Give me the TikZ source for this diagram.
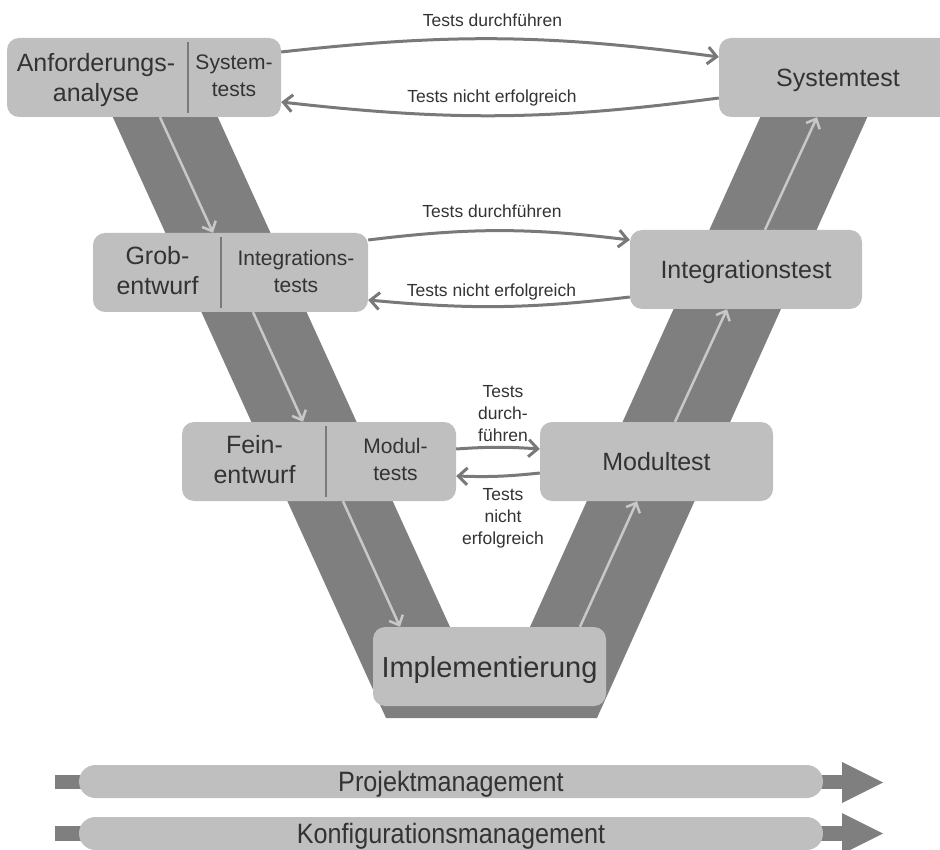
\documentclass[tikz,border=0pt]{standalone}
\usepackage{fontspec}
\setmainfont{Liberation Sans}
\newfontfamily\narrowfont[FakeStretch=0.9]{Liberation Sans}
\usetikzlibrary{arrows.meta}
\definecolor{vband}{HTML}{7F7F7F}
\definecolor{boxfill}{HTML}{BFBFBF}
\definecolor{conncol}{HTML}{797979}
\definecolor{upcol}{HTML}{C8C8C8}
\definecolor{txt}{HTML}{333333}
\definecolor{divcol}{HTML}{7A7A7A}
\tikzset{
  box/.style={fill=boxfill, draw=none, rounded corners=12pt, inner sep=0pt, minimum height=79pt, minimum width=#1},
  bigtxt/.style={font=\fontsize{25}{30}\selectfont, text=txt, align=center, inner sep=0pt},
  smalltxt/.style={font=\fontsize{21}{27}\selectfont, text=txt, align=center, inner sep=0pt},
  single/.style={font=\fontsize{25}{30}\selectfont, text=txt, text height=18pt, text depth=0pt},
  lbl/.style={font=\fontsize{17.5}{22}\selectfont, text=txt, align=center, inner sep=0pt},
  conn/.style={draw=conncol, line width=3pt, -{Straight Barb[length=9pt,width=17pt]}},
  uparr/.style={draw=upcol, line width=2.5pt, -{Straight Barb[length=8pt,width=15pt]}},
  divider/.style={draw=divcol, line width=2pt},
  pill/.style={fill=boxfill, draw=none, rounded corners=16.5pt, inner sep=0pt, minimum width=744pt, minimum height=33pt, font=\narrowfont\fontsize{28}{30}\selectfont, text=txt, text height=20pt, text depth=0pt}
}
\begin{document}
\begin{tikzpicture}[x=1pt,y=-1pt]
\useasboundingbox (0,0) rectangle (940,850);
% V band
\fill[vband] (105,100) -- (210,100) -- (450,627) -- (490,700) -- (530,627) -- (768,100) -- (875,100) -- (597,718) -- (386,718) -- cycle;

% boxes
\node[box=274pt] (anf) at (144,77.5) {};
\node[box=238pt, single] (sys) at (838,77.5) {Systemtest};
\node[box=275pt] (grob) at (230.5,272.5) {};
\node[box=232pt, single] (integ) at (746,269.5) {Integrationstest};
\node[box=274pt] (fein) at (319,461.5) {};
\node[box=233pt, single] (modt) at (656.5,461.5) {Modultest};
\node[box=233pt, single, font=\fontsize{29}{33}\selectfont, text height=21pt] (impl) at (489.5,666.5) {Implementierung};

% dividers
\draw[divider] (188,42) -- (188,113);
\draw[divider] (221,237) -- (221,308);
\draw[divider] (326,426) -- (326,497);

% texts in split boxes
\node[bigtxt] (anfL) at (96,80.5) {Anforderungs-\\analyse};
\node[smalltxt] (anfR) at (234,76) {System-\\tests};
\node[bigtxt] (grobL) at (157.5,271) {Grob-\\entwurf};
\node[smalltxt] (grobR) at (296,271.5) {Integrations-\\tests};
\node[bigtxt] (feinL) at (254.5,460) {Fein-\\entwurf};
\node[smalltxt] (feinR) at (395.5,459) {Modul-\\tests};

% light arrows along the V
\draw[uparr] (anf.south -| 160,0) -- (grob.north -| 213,0);
\draw[uparr] (grob.south -| 253,0) -- (fein.north -| 303,0);
\draw[uparr] (fein.south -| 343,0) -- (impl.north -| 400,0);
\draw[uparr] (impl.north -| 580,0) -- (modt.south -| 637,0);
\draw[uparr] (modt.north -| 675,0) -- (integ.south -| 727,0);
\draw[uparr] (integ.north -| 765,0) -- (sys.south -| 817,0);

% test connectors
\draw[conn] ([yshift=25.5pt]anf.east) to[bend left=7] (sys.west |- 0,57);
\draw[conn] (sys.west |- 0,98) to[bend left=7] ([yshift=-24.5pt]anf.east);
\draw[conn] ([yshift=32.5pt]grob.east) to[bend left=7] ([yshift=29.5pt]integ.west);
\draw[conn] ([yshift=-27.5pt]integ.west) to[bend left=6] ([yshift=-27.5pt]grob.east);
\draw[conn] ([yshift=12.5pt]fein.east) to[bend left=4] ([yshift=12.5pt]modt.west);
\draw[conn] ([yshift=-11.5pt]modt.west) to[bend left=4] ([yshift=-14.5pt]fein.east);

% labels
\node[lbl, anchor=base] (l1) at (492.5,27) {Tests durchführen};
\node[lbl, anchor=base] (l2) at (492,103) {Tests nicht erfolgreich};
\node[lbl, anchor=base] (l3) at (492,218) {Tests durchführen};
\node[lbl, anchor=base] (l4) at (491.5,297) {Tests nicht erfolgreich};
\node[lbl] (l5) at (503,413.75) {Tests\\durch-\\führen};
\node[lbl] (l6) at (503,518) {Tests\\nicht\\erfolgreich};

% bottom bars
\fill[vband] (55,775) rectangle (845,789);
\fill[vband] (842,762) -- (883,782.5) -- (842,803) -- cycle;
\node[pill] (pm) at (451,781.5) {Projektmanagement};
\fill[vband] (55,826) rectangle (845,841);
\fill[vband] (842,813) -- (883,833.5) -- (842,854) -- cycle;
\node[pill] (km) at (451,833.5) {Konfigurationsmanagement};
\end{tikzpicture}
\end{document}
